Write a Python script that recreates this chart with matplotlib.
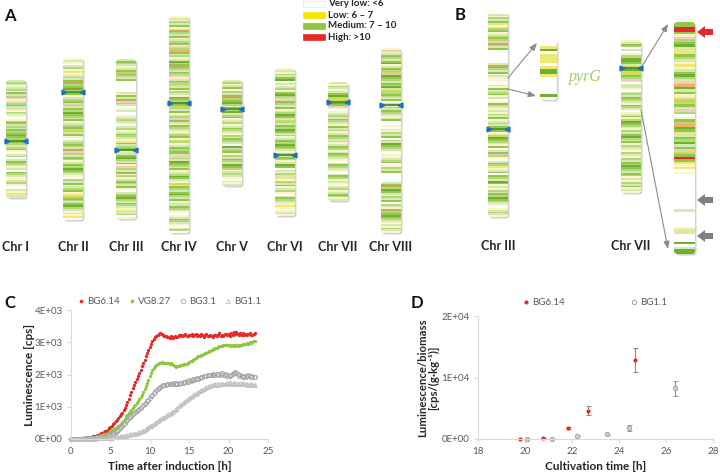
import numpy as np
import matplotlib.pyplot as plt
from matplotlib.patches import FancyBboxPatch, Rectangle
from matplotlib.lines import Line2D
from matplotlib.colors import to_rgb

plt.rcParams['font.family'] = ['Lato', 'DejaVu Sans']

# ---------------- data ----------------
# expression classes along the chromosomes (top -> bottom), one char per band
# w very low, p/y low (yellow), l/m/g/G medium (greens), b yellow-green, o olive,
# k pinkish, n orange, r high (red)
chr_a_names = ['Chr I', 'Chr II', 'Chr III', 'Chr IV', 'Chr V', 'Chr VI', 'Chr VII', 'Chr VIII']
chr_a_bands = [
    'lmlplmpglmkplmgllpmlpwpmglmlgmgGgmlgmlbgpwlmwlgmlplwgmlpwlmpwwlpyyl',
    'plpwlmpyplmlgomgGmlgplmgkmlgmGgmlgplmgbmlgpwlmgmlokmlgmplgmGgmlpwmlgplmgpybgmlgGmlplpyw',
    'lgmlplgmomlgwwwwwwlpglokmlwplwwplmlpwlmplgmlpyglmgpllgGmlgpkmlgpmplgmlgpwlmgGmlgmlpylmwp',
    'plpmlgplomlgplmgpkmnglmplGmgomlgmkplgmblgpmlpGgmlgbmlgplmkglpgmlplmgpbmplgmoglkmlGgmlgplmGglpblgmlgGmlgpylgmlpwplgmlpwlmw',
    'lmplgpmlgomgGmlgmGlmgplmplgmlpmlgmlwGlmgpmlgmlGgmplmlpwypl',
    'plpmlgGwlwlmpgGmlkgmlgplmGglbmlgmGglmplgmGgmlpmlgmplGgwlpmlypmlgplmpwlgmlpypwplp',
    'lpmlplgGmbbGgkpwplmlgmlpglmplgmlbplgmplgmlpwlgmlpwlgmplpwlmplgmpl',
    'pkplgmlgGplgmbkGgmlgmGlbmgmlgwlpmlgmlplgwwpwlpmlgwmlGgmlpwpplmgwpmlgwwwwwlgomGglpmlgwmlpomgGgmlplpmlp',
]
chr_a_centromere = [0.52, 0.21, 0.57, 0.40, 0.27, 0.59, 0.17, 0.31]

chr_b_names = ['Chr III', 'Chr VII']
chr_b3_bands = ('wlpmlgyplmgplbgmkomlgwwwwwwwlgomlgwlppwwlpglmgplwpgmlplpmlgplml'
                'gGgplbGgmlpgwlgkmpwlgmyplgwgmlGgplpmlgmGgmlpwplmlp')
pyrg_bands = 'wwyGwyyywyGGywwwwwwGw'
chr_b7_bands = 'plgmwlwpmbGGglbgGbbgmklwllpwlmlgmlpgmlwplgpmGgmlpmlgGmlgpmlpwmlpmlgmGgmlgmplpmlgplp'
chr_b7_zoom_bands = ('ggrrgpkmgGlyygmlpyplgGmlknGlgpymbglkmwpgmnGgylgmGlgkbgr'
                     'gypywp' 'wwwwwwwwwwwwww' 'l' 'wwwwww' 'pylwwwGwlGG')
chr_b_centromere = [0.57, 0.18]

legend_a_labels = ['Very low: <6', 'Low: 6 \u2013 7', 'Medium: 7 \u2013 10', 'High: >10']
legend_a_colors = ['#ffffff', '#f5e600', '#8dc63f', '#e42a28']

# panel C: luminescence after induction, sampled every 10 min
c_time = np.arange(141) / 6.0
c_bg614 = [0, 0, 5, 5, 10, 10, 15, 15, 20, 25, 30, 40,
           45, 50, 55, 60, 70, 80, 90, 100, 115, 130, 150, 175,
           200, 215, 235, 260, 290, 330, 370, 410, 450, 500, 550, 600,
           650, 700, 760, 820, 890, 960, 1050, 1150, 1250, 1350, 1460, 1570,
           1680, 1770, 1870, 1960, 2060, 2150, 2250, 2350, 2450, 2560, 2660, 2760,
           2860, 2960, 3040, 3100, 3150, 3200, 3230, 3260, 3280, 3250, 3220, 3200,
           3180, 3150, 3170, 3140, 3200, 3160, 3130, 3180, 3150, 3170, 3210, 3190,
           3230, 3180, 3220, 3250, 3200, 3180, 3240, 3210, 3260, 3190, 3220, 3250,
           3200, 3240, 3190, 3260, 3230, 3170, 3210, 3250, 3200, 3190, 3230, 3180,
           3160, 3210, 3240, 3190, 3220, 3280, 3200, 3230, 3180, 3250, 3270, 3220,
           3260, 3200, 3290, 3240, 3310, 3270, 3330, 3250, 3220, 3280, 3240, 3300,
           3230, 3260, 3210, 3250, 3280, 3220, 3240, 3260, 3300]
c_vg827 = [0, 0, 5, 5, 5, 10, 10, 15, 15, 20, 20, 25,
           30, 35, 40, 45, 50, 55, 60, 70, 80, 90, 100, 115,
           130, 140, 155, 170, 185, 210, 240, 265, 290, 315, 340, 365,
           390, 430, 470, 520, 570, 630, 700, 750, 800, 850, 910, 960,
           1010, 1060, 1110, 1170, 1230, 1300, 1370, 1450, 1540, 1640, 1740, 1840,
           1940, 2040, 2140, 2200, 2260, 2300, 2330, 2350, 2360, 2380, 2370, 2360,
           2370, 2350, 2360, 2340, 2350, 2330, 2300, 2260, 2240, 2250, 2270, 2290,
           2300, 2280, 2320, 2340, 2330, 2370, 2400, 2420, 2430, 2450, 2470, 2500,
           2540, 2560, 2580, 2590, 2620, 2640, 2660, 2680, 2700, 2720, 2730, 2760,
           2780, 2800, 2810, 2830, 2850, 2870, 2890, 2880, 2900, 2920, 2900, 2910,
           2920, 2890, 2910, 2880, 2900, 2930, 2890, 2910, 2880, 2900, 2930, 2950,
           2960, 2940, 2980, 2960, 3000, 2990, 3020, 3040, 3050]
c_bg31 = [0, 0, 0, 5, 5, 5, 10, 10, 10, 15, 15, 20,
          20, 25, 25, 30, 30, 35, 40, 45, 50, 55, 60, 70,
          75, 85, 95, 105, 115, 125, 140, 160, 180, 200, 225, 255,
          290, 330, 370, 410, 460, 500, 550, 590, 640, 680, 720, 760,
          800, 840, 870, 910, 940, 970, 1010, 1050, 1090, 1130, 1180, 1220,
          1270, 1320, 1370, 1420, 1470, 1510, 1550, 1590, 1620, 1640, 1660, 1670,
          1680, 1700, 1690, 1710, 1720, 1700, 1730, 1710, 1740, 1720, 1700, 1730,
          1750, 1740, 1770, 1760, 1790, 1780, 1830, 1800, 1820, 1850, 1840, 1860,
          1890, 1870, 1900, 1920, 1910, 1940, 1960, 1950, 1980, 1970, 2000, 1990,
          2020, 2000, 1990, 2030, 2010, 2000, 2020, 2040, 2000, 1990, 2010, 1960,
          1980, 1960, 2000, 2030, 2060, 2090, 2050, 2010, 1960, 1990, 1940, 1920,
          1950, 1930, 1960, 1980, 1940, 1920, 1950, 1930, 1920]
c_bg11 = [0, 0, 0, 0, 0, 5, 5, 5, 5, 5, 10, 10,
          10, 10, 10, 15, 15, 15, 15, 20, 20, 20, 25, 25,
          25, 30, 30, 35, 35, 40, 40, 45, 50, 55, 60, 65,
          70, 75, 80, 85, 90, 95, 100, 110, 120, 130, 140, 150,
          160, 170, 185, 195, 210, 225, 240, 260, 280, 300, 330, 360,
          390, 410, 440, 470, 500, 520, 550, 580, 610, 640, 660, 680,
          700, 730, 760, 780, 800, 830, 850, 890, 930, 970, 1010, 1060,
          1100, 1130, 1160, 1180, 1210, 1240, 1270, 1300, 1330, 1360, 1390, 1410,
          1440, 1460, 1490, 1510, 1530, 1560, 1580, 1600, 1620, 1630, 1650, 1660,
          1680, 1660, 1690, 1700, 1680, 1690, 1700, 1710, 1690, 1720, 1700, 1740,
          1730, 1760, 1720, 1750, 1740, 1710, 1730, 1700, 1720, 1750, 1710, 1730,
          1720, 1690, 1710, 1680, 1700, 1690, 1670, 1680, 1660]
c_yticks = [0, 1000, 2000, 3000, 4000]
c_yticklabels = ['0E+00', '1E+03', '2E+03', '3E+03', '4E+03']

# panel D: luminescence per biomass vs cultivation time
d_bg614_t = [19.8, 20.75, 21.83, 22.68, 24.68]
d_bg614_v = [0, 100, 1830, 4620, 12900]
d_bg614_e = [0, 0, 150, 780, 1960]
d_bg11_t = [20.1, 21.13, 22.22, 23.5, 24.43, 26.4]
d_bg11_v = [0, 50, 450, 750, 1800, 8230]
d_bg11_e = [0, 0, 100, 120, 430, 1180]
d_yticks = [0, 10000, 20000]
d_yticklabels = ['0E+00', '1E+04', '2E+04']

# ---------------- styles ----------------
band_colors = {'w': '#ffffff', 'p': '#fbf4c8', 'y': '#efe777', 'b': '#cfdc5a',
               'l': '#d5e9b4', 'm': '#b3d77a', 'g': '#93c74c', 'G': '#70b02f',
               'o': '#c2ad52', 'k': '#f3cbbd', 'n': '#f4b060', 'r': '#e42a28'}
txt_dark = '#262626'
txt_gray = '#595959'
axis_gray = '#d9d9d9'


def draw_chrom(ax, x, y, w, h, bands, cen=None):
    shadow = FancyBboxPatch((x + 1.5, y + 1.5), w, h, boxstyle='round,pad=0,rounding_size=3.5',
                            fc='#9a9a9a', ec='none', alpha=0.45, zorder=1)
    ax.add_patch(shadow)
    body = FancyBboxPatch((x, y), w, h, boxstyle='round,pad=0,rounding_size=3.5',
                          fc='white', ec='none', zorder=2)
    ax.add_patch(body)
    arr = np.array([to_rgb(band_colors[c]) for c in bands]).reshape(len(bands), 1, 3)
    im = ax.imshow(arr, extent=(x, x + w, y + h, y), aspect='auto',
                   interpolation='nearest', zorder=3)
    im.set_clip_path(body)
    if cen is not None:
        yc = y + cen * h
        ax.plot([x, x + w], [yc, yc], color='#4f9a2c', lw=1.5, zorder=4)
        ax.plot([x + 1.2], [yc], marker='>', color='#1f6fc0', ms=3.5, zorder=5)
        ax.plot([x + w - 1.2], [yc], marker='<', color='#1f6fc0', ms=3.5, zorder=5)


fig = plt.figure(figsize=(7.2, 4.75), dpi=100)
ax0 = fig.add_axes([0, 0, 1, 1])
ax0.axis('off')

# panel A
a_x = [6, 63, 116, 169, 222, 275, 328, 381]
a_y = [80, 58, 59, 16, 80, 68, 82, 48]
a_h = [118, 162, 160, 217, 106, 148, 119, 185]
for i in range(len(chr_a_names)):
    draw_chrom(ax0, a_x[i], a_y[i], 20, a_h[i], chr_a_bands[i], chr_a_centromere[i])
    ax0.text(a_x[i] + 10, 247, chr_a_names[i], ha='center', va='center',
             fontsize=9, fontweight='bold', color=txt_dark)

for i, (lab, col) in enumerate(zip(legend_a_labels, legend_a_colors)):
    yc = 4 + 11 * i
    ax0.add_patch(Rectangle((303, yc - 3), 22, 6, fc=col,
                            ec='#e6e6e6' if col == '#ffffff' else col, lw=0.5))
    ax0.text(328, yc, lab, ha='left', va='center', fontsize=7,
             fontweight='bold', color=txt_dark)

# panel B
draw_chrom(ax0, 488, 12, 20, 205, chr_b3_bands, chr_b_centromere[0])
draw_chrom(ax0, 540, 40, 17, 60, pyrg_bands)
draw_chrom(ax0, 621, 40, 20, 153, chr_b7_bands, chr_b_centromere[1])
draw_chrom(ax0, 674, 22, 21, 232, chr_b7_zoom_bands)
ax0.text(498, 246, chr_b_names[0], ha='center', va='center', fontsize=9,
         fontweight='bold', color=txt_dark)
ax0.text(631, 246, chr_b_names[1], ha='center', va='center', fontsize=9,
         fontweight='bold', color=txt_dark)
ax0.text(569, 77, 'pyrG', fontfamily='Liberation Serif', style='italic',
         fontsize=11.5, color='#a3cc6b', ha='left', va='center')

for (x1, y1), (x2, y2) in [((508, 78), (537, 43)), ((508, 89), (536, 96)),
                           ((641, 68), (668, 24)), ((641, 110), (668, 249))]:
    ax0.annotate('', xy=(x2, y2), xytext=(x1, y1),
                 arrowprops=dict(arrowstyle='-|>,head_length=0.45,head_width=0.18',
                                 color='#8c8c8c', lw=0.8, shrinkA=0, shrinkB=0))

for yc, col in [(32, '#e42a28'), (200, '#7f7f7f'), (236, '#7f7f7f')]:
    ax0.add_patch(plt.Polygon([[697, yc], [705, yc - 6], [705, yc - 3], [713, yc - 3],
                               [713, yc + 3], [705, yc + 3], [705, yc + 6]],
                              closed=True, fc=col, ec='none'))

for lab, x, y in [('A', 4, 16), ('B', 455, 15), ('C', 4, 303), ('D', 411, 303)]:
    ax0.text(x, y, lab, ha='left', va='center', fontsize=12, fontweight='bold', color='#111111')

ax0.set_xlim(0, 720)
ax0.set_ylim(475, 0)


def style_axes(ax):
    for s in ['top', 'right']:
        ax.spines[s].set_visible(False)
    for s in ['left', 'bottom']:
        ax.spines[s].set_color(axis_gray)
        ax.spines[s].set_linewidth(0.8)
    ax.tick_params(direction='out', length=3, width=0.8, color=axis_gray,
                   labelcolor=txt_gray, labelsize=7, pad=3)
    ax.set_facecolor('none')


# panel C
axc = fig.add_axes([71 / 720, 1 - 439 / 475, 197 / 720, 129 / 475])
style_axes(axc)
axc.plot(c_time, c_bg614, 'o', ms=2.4, color='#e42a28', mec='none', label='BG6.14', clip_on=False)
axc.plot(c_time, c_vg827, 'o', ms=2.4, color='#8dc63f', mec='none', label='VG8.27', clip_on=False)
axc.plot(c_time, c_bg31, 'o', ms=3.0, mfc='none', mec='#a6a6a6', mew=0.6, label='BG3.1', clip_on=False)
axc.plot(c_time, c_bg11, '^', ms=2.8, mfc='none', mec='#bfbfbf', mew=0.6, label='BG1.1', clip_on=False)
axc.set_xlim(0, 25)
axc.set_ylim(0, 4000)
axc.set_xticks([0, 5, 10, 15, 20, 25])
axc.set_yticks(c_yticks)
axc.set_yticklabels(c_yticklabels)
axc.set_xlabel('Time after induction [h]', fontsize=8.5, fontweight='bold', color=txt_dark)
axc.xaxis.set_label_coords(0.5, -0.17)
axc.set_ylabel('Luminescence [cps]', fontsize=8.5, fontweight='bold', color=txt_dark)
axc.yaxis.set_label_coords(-0.185, 0.5)
leg = axc.legend(loc='center', bbox_to_anchor=(0.5, 1.065), ncol=4, frameon=False,
                 fontsize=7, handlelength=0.6, handletextpad=0.35, columnspacing=0.9,
                 markerscale=1.1)
for t in leg.get_texts():
    t.set_color(txt_gray)

# panel D
axd = fig.add_axes([478 / 720, 1 - 439 / 475, 235 / 720, 123 / 475])
style_axes(axd)
axd.errorbar(d_bg614_t, d_bg614_v, yerr=d_bg614_e, fmt='o', ms=3, color='#e42a28', mec='none',
             ecolor='#8c8c8c', elinewidth=0.8, capsize=1.8, capthick=0.8, clip_on=False)
axd.errorbar(d_bg11_t, d_bg11_v, yerr=d_bg11_e, fmt='o', ms=3.2, mfc='#d0d0d0', mec='#9a9a9a', mew=0.6,
             ecolor='#8c8c8c', elinewidth=0.8, capsize=1.8, capthick=0.8, clip_on=False)
axd.set_xlim(18, 28)
axd.set_ylim(0, 20000)
axd.set_xticks([18, 20, 22, 24, 26, 28])
axd.set_yticks(d_yticks)
axd.set_yticklabels(d_yticklabels)
axd.set_xlabel('Cultivation time [h]', fontsize=8.5, fontweight='bold', color=txt_dark)
axd.xaxis.set_label_coords(0.5, -0.175)
axd.set_ylabel('Luminescence/biomass\n[cps/(g\u00b7kg\u207b\u00b9)]', fontsize=8.2,
               fontweight='bold', color=txt_dark, linespacing=1.05)
axd.yaxis.set_label_coords(-0.165, 0.5)
d_handles = [Line2D([], [], ls='none', marker='o', ms=3, color='#e42a28', mec='none'),
             Line2D([], [], ls='none', marker='o', ms=3.2, mfc='white', mec='#9a9a9a', mew=0.6)]
legd = axd.legend(d_handles, ['BG6.14', 'BG1.1'], loc='center', bbox_to_anchor=(0.5, 1.11),
                  ncol=2, frameon=False, fontsize=7, handlelength=0.6, handletextpad=0.35,
                  columnspacing=6.8)
for t in legd.get_texts():
    t.set_color(txt_gray)

fig.savefig('out.png', dpi=100)
